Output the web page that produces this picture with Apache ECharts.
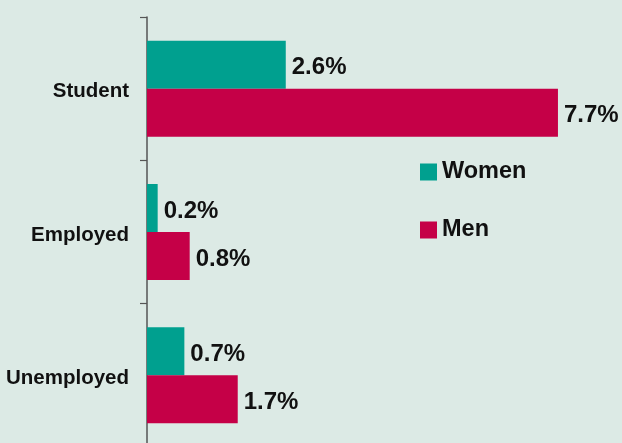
<!DOCTYPE html>
<html>
<head>
<meta charset="utf-8">
<script src="https://cdn.jsdelivr.net/npm/echarts@6/dist/echarts.min.js"></script>
<style>
  html, body { margin: 0; padding: 0; background: #dceae5; }
  #chart { width: 622px; height: 443px; }
</style>
</head>
<body>
<div id="chart"></div>
<script>
// Share of each group, in percent
const categories = ['Student', 'Employed', 'Unemployed'];
const women = [2.6, 0.2, 0.7];
const men = [7.7, 0.8, 1.7];

const FONT = "'Liberation Sans', Arial, Helvetica, sans-serif";

const valueLabel = {
  show: true,
  position: 'right',
  distance: 6,
  offset: [0, 3],
  formatter: '{c}%',
  color: '#111',
  fontFamily: FONT,
  fontWeight: 'bold',
  fontSize: 24
};

const chart = echarts.init(document.getElementById('chart'), null, { renderer: 'canvas' });
chart.setOption({
  backgroundColor: '#dceae5',
  animation: false,
  grid: { left: 147, right: 0, top: 17, height: 430, containLabel: false, outerBoundsMode: 'none' },
  legend: {
    orient: 'vertical',
    left: 420,
    top: 160,
    padding: 0,
    icon: 'rect',
    itemWidth: 17,
    itemHeight: 17,
    itemGap: 34,
    textStyle: { fontFamily: FONT, fontWeight: 'bold', fontSize: 23.5, color: '#111' },
    data: ['Women', 'Men']
  },
  xAxis: { type: 'value', min: 0, max: 8.9, show: false },
  yAxis: {
    type: 'category',
    inverse: true,
    data: categories,
    axisLine: { show: true, lineStyle: { color: '#555', width: 1.5 } },
    axisTick: { show: true, length: 7, lineStyle: { color: '#555', width: 1.2 } },
    axisLabel: {
      margin: 18,
      formatter: '{c|{value}}',
      rich: {
        c: {
          padding: [6, 0, 0, 0],
          color: '#111', fontFamily: FONT, fontWeight: 'bold', fontSize: 20.5
        }
      }
    }
  },
  series: [
    {
      name: 'Women', type: 'bar', data: women,
      barWidth: 48, barGap: '0%',
      itemStyle: { color: '#00a08f' },
      label: valueLabel
    },
    {
      name: 'Men', type: 'bar', data: men,
      barWidth: 48, barGap: '0%',
      itemStyle: { color: '#c50047' },
      label: valueLabel
    }
  ]
});
</script>
</body>
</html>
